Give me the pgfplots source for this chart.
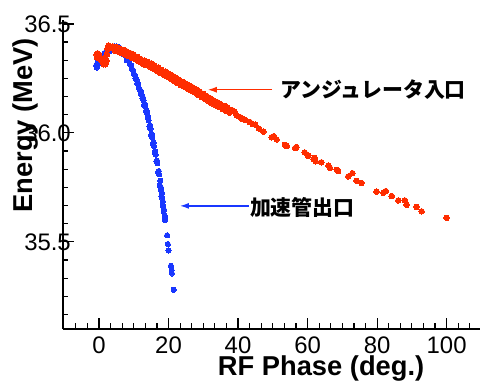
\documentclass[border=0pt]{standalone}
\usepackage{fontspec}
\setmainfont{Liberation Sans}
\newfontfamily\jp{Noto Sans CJK JP}
\usepackage{pgfplots}
\pgfplotsset{compat=1.18}
\usetikzlibrary{calc,arrows.meta}
\definecolor{myred}{RGB}{255,45,0}
\definecolor{myblue}{RGB}{25,55,255}

\pgfplotstableread{
x y
-0.8 36.31
-0.5 36.32
-0.2 36.33
0.2 36.34
0.6 36.35
1.0 36.355
1.5 36.365
2.0 36.372
2.5 36.38
3.0 36.386
3.5 36.39
4.0 36.394
4.5 36.396
5.0 36.397
5.5 36.395
6.0 36.39
6.5 36.383
7.0 36.372
7.5 36.36
8.0 36.345
8.5 36.33
9.0 36.312
9.5 36.293
10.0 36.272
10.5 36.25
11.0 36.228
11.5 36.205
12.0 36.182
12.5 36.158
13.0 36.128
13.5 36.10
14.0 36.07
14.5 36.03
15.0 35.99
15.5 35.95
16.0 35.91
16.5 35.87
17.0 35.82
17.5 35.76
18.0 35.71
18.3 35.67
18.6 35.64
19.0 35.60
-0.6 36.30
-0.3 36.315
0.1 36.325
0.5 36.338
1.0 36.343
2.0 36.36
3.0 36.374
4.0 36.383
5.0 36.386
6.0 36.379
7.0 36.36
8.0 36.333
9.3 36.31
9.8 36.288
10.3 36.266
10.8 36.244
11.3 36.222
11.8 36.198
12.3 36.175
12.8 36.15
13.3 36.12
13.8 36.09
14.3 36.058
14.8 36.018
15.3 35.978
15.8 35.94
16.3 35.90
16.8 35.86
17.3 35.81
17.8 35.75
18.2 35.70
18.5 35.66
18.9 35.62
12.2 36.185
12.7 36.16
13.2 36.132
13.7 36.102
14.2 36.07
14.7 36.035
15.2 35.995
15.7 35.955
16.2 35.915
16.7 35.872
17.2 35.825
17.6 35.78
17.9 35.735
18.1 35.725
18.4 35.685
18.7 35.648
19.1 35.605
19.6 35.53
19.8 35.49
20.0 35.46
20.7 35.39
20.9 35.37
21.0 35.355
21.5 35.28
}\blueA

\pgfplotstableread{
x y
-0.7 36.36
-0.4 36.365
-0.5 36.345
-0.2 36.35
0.0 36.36
0.2 36.345
0.6 36.335
1.0 36.325
1.2 36.34
1.4 36.315
1.8 36.315
2.1 36.33
2.3 36.36
2.5 36.385
2.8 36.40
3.3 36.395
4 36.397
4.5 36.378
5 36.394
5.5 36.374
6 36.387
6.5 36.367
7 36.381
7.5 36.36
8 36.374
8.5 36.353
9 36.366
9.5 36.345
10 36.359
10.5 36.338
11 36.349
11.5 36.328
12 36.339
12.5 36.318
13 36.332
13.5 36.311
14 36.326
14.5 36.305
15 36.319
15.5 36.296
16 36.309
16.5 36.286
17 36.299
17.5 36.276
18 36.289
18.5 36.268
19 36.281
19.5 36.26
20 36.272
20.5 36.25
21 36.264
21.5 36.24
22 36.254
22.5 36.23
23 36.244
23.5 36.22
24 36.234
24.5 36.212
25 36.226
25.5 36.203
26 36.217
26.5 36.194
27 36.209
27.5 36.186
28 36.199
28.5 36.175
29 36.189
29.5 36.165
30 36.179
30.5 36.155
31 36.169
31.5 36.145
32 36.159
32.5 36.136
33 36.149
33.5 36.127
34 36.141
34.5 36.119
35 36.132
35.5 36.11
36 36.124
36.5 36.102
37 36.116
37.5 36.093
38.2 36.105
39 36.098
39.6 36.08
40.6 36.072
41.2 36.065
42 36.06
43.4 36.05
44.2 36.04
44.9 36.038
46 36.02
47.3 36.006
49.7 35.98
50.3 35.985
51.1 35.97
53.5 35.945
54 35.94
56.4 35.93
56.8 35.935
59.2 35.91
60.2 35.895
61.7 35.88
62.0 35.885
62.3 35.87
64.0 35.865
66.0 35.85
66.4 35.84
68.4 35.83
68.8 35.825
71.7 35.80
72.9 35.815
74.1 35.78
75.5 35.77
79.8 35.73
81.8 35.725
82.5 35.733
84.2 35.71
86.1 35.69
88.0 35.69
88.5 35.67
91.3 35.66
92.8 35.64
100 35.61
}\redA

\begin{document}
\begin{tikzpicture}
\begin{axis}[
 name=ax,
 scale only axis, width=417bp, height=309bp,
 xmin=-10.35, xmax=109.6, ymin=35.1, ymax=36.518,
 axis lines=left,
 axis line style={-, line width=1.5bp, black},
 xtick={0,20,...,100}, xticklabels={0,20,40,60,80,100},
 ytick={35.5,36,36.5}, yticklabels={35.5,36.0,36.5},
 minor xtick={-6.6667,-3.3333,...,109},
 minor ytick={35.16667,35.25,...,36.5},
 tick align=inside,
 major tick length=11bp, minor tick length=5.5bp,
 tick style={line width=1.2bp, black},
 xticklabel style={font=\fontsize{24}{24}\selectfont, anchor=north, inner sep=0pt, yshift=-8bp},
 yticklabel style={font=\fontsize{24}{24}\selectfont, anchor=east, inner sep=0pt, xshift=8bp},
 clip=false,
]
\addplot[only marks, mark=*, mark size=2.6bp, mark options={fill=myblue, draw=myblue, line width=0pt}] table[x=x,y=y] {\blueA};
\addplot[only marks, mark=*, mark size=2.8bp, mark options={fill=myred, draw=myred, line width=0pt}] table[x=x,y=y] {\redA};

\draw[myred, line width=1.3bp, -{Latex[length=9bp,width=6bp]}] (axis cs:49.8,36.198) -- (axis cs:31.3,36.198);
\node[anchor=west, inner sep=0pt, font=\jp\bfseries\fontsize{21}{21}\selectfont] at (axis cs:52.1,36.198) {アンジュレータ入口};
\draw[myblue, line width=1.3bp, -{Latex[length=9bp,width=6bp]}] (axis cs:43.1,35.665) -- (axis cs:23.3,35.665);
\node[anchor=west, inner sep=0pt, font=\jp\bfseries\fontsize{21}{21}\selectfont] at (axis cs:43.4,35.658) {加速管出口};

\node[rotate=90, anchor=base, inner sep=0pt, font=\fontsize{27.4}{27.4}\selectfont\bfseries] at (axis description cs:-0.0743,0.659) {Energy (MeV)};
\node[anchor=base, inner sep=0pt, font=\fontsize{27.4}{27.4}\selectfont\bfseries] at (axis description cs:0.619,-0.152) {RF Phase (deg.)};
\end{axis}
\pgfresetboundingbox
\path[use as bounding box] ($(ax.south west)+(-63bp,-54bp)$) rectangle ($(ax.north east)+(1bp,20bp)$);
\end{tikzpicture}
\end{document}
